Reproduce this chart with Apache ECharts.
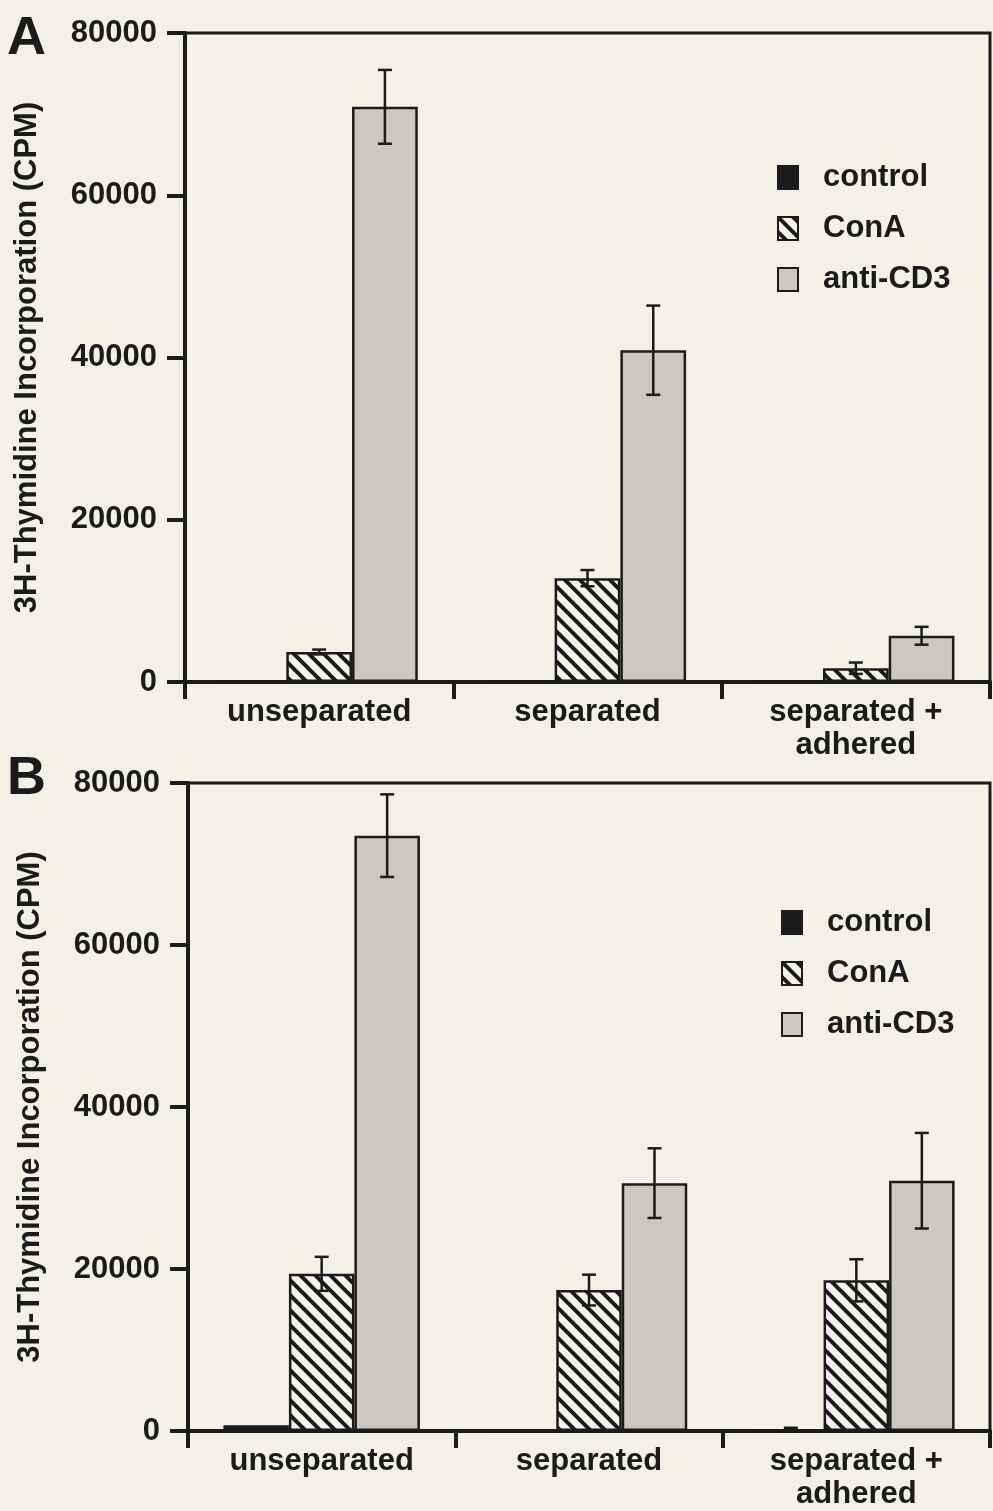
<!DOCTYPE html>
<html>
<head>
<meta charset="utf-8">
<script src="https://cdn.jsdelivr.net/npm/echarts@6/dist/echarts.min.js"></script>
<style>
  html, body { margin: 0; padding: 0; background: #f3f0e5; }
  #chart { width: 993px; height: 1511px; }
</style>
</head>
<body>
<div id="chart"></div>
<script>
// 分类与系列
var categories = ["unseparated", "separated", "separated +\nadhered"];
var seriesNames = ["control", "ConA", "anti-CD3"];
var yTicks = [0, 20000, 40000, 60000, 80000];

// Panel A
var controlA = [0, 0, 0];
var controlErrA = [0, 0, 0];
var conA_A = [3700, 12800, 1700];
var conAErrA = [300, 1000, 700];
var antiA = [70900, 40900, 5700];
var antiErrA = [4550, 5500, 1100];

// Panel B
var controlB = [700, 0, 150];
var controlErrB = [0, 0, 250];
var conA_B = [19400, 17400, 18600];
var conAErrB = [2100, 1900, 2600];
var antiB = [73500, 30600, 30900];
var antiErrB = [5100, 4300, 5900];

var INK = "#1b1b1b";
var BG = "#f3f0e5";
var GRAY = "#cbc8c2";
var FONT = "'Liberation Sans', Arial, sans-serif";
var BAR_FRAC = 0.245;

// 斜线填充
function hatch() {
  var s = 15;
  var c = document.createElement("canvas");
  c.width = s;
  c.height = s;
  var ctx = c.getContext("2d");
  ctx.fillStyle = "#f6f3ec";
  ctx.fillRect(0, 0, s, s);
  ctx.strokeStyle = INK;
  ctx.lineWidth = 4;
  for (var k = -1; k <= 1; k++) {
    ctx.beginPath();
    ctx.moveTo(k * s - 1, -1);
    ctx.lineTo(k * s + s + 1, s + 1);
    ctx.stroke();
  }
  return { image: c, repeat: "repeat" };
}
var hatchFill = hatch();

function errData(vals, errs, idx) {
  return vals.map(function (v, i) {
    return [i, idx, v, errs[i]];
  });
}

function renderErr(params, api) {
  var cat = api.value(0), s = api.value(1), v = api.value(2), e = api.value(3);
  if (!e) return;
  var band = api.size([1, 0])[0];
  var c = api.coord([cat, v]);
  var x = c[0] + (s - 1) * band * BAR_FRAC;
  var yTop = api.coord([cat, v + e])[1];
  var yBot = api.coord([cat, Math.max(v - e, 0)])[1];
  var hw = 7;
  var st = { stroke: INK, lineWidth: 2.5 };
  return {
    type: "group",
    children: [
      { type: "line", shape: { x1: x, y1: yTop, x2: x, y2: yBot }, style: st },
      { type: "line", shape: { x1: x - hw, y1: yTop, x2: x + hw, y2: yTop }, style: st },
      { type: "line", shape: { x1: x - hw, y1: yBot, x2: x + hw, y2: yBot }, style: st },
    ],
  };
}

function xAxisFor(gi) {
  return {
    type: "category",
    gridIndex: gi,
    data: categories,
    axisLine: { lineStyle: { color: INK, width: 4 } },
    axisTick: { show: true, length: 17, interval: 0, lineStyle: { color: INK, width: 4 } },
    axisLabel: {
      interval: 0,
      margin: 14,
      color: INK,
      fontFamily: FONT,
      fontWeight: "bold",
      fontSize: 31,
      lineHeight: 33,
    },
  };
}

function yAxisFor(gi) {
  return {
    type: "value",
    gridIndex: gi,
    min: yTicks[0],
    max: yTicks[yTicks.length - 1],
    interval: yTicks[1] - yTicks[0],
    name: "3H-Thymidine Incorporation (CPM)",
    nameLocation: "middle",
    nameRotate: 90,
    nameGap: 142,
    nameTextStyle: { color: INK, fontFamily: FONT, fontWeight: "bold", fontSize: 31 },
    splitLine: { show: false },
    axisLine: { show: true, lineStyle: { color: INK, width: 4 } },
    axisTick: { show: true, length: 18, lineStyle: { color: INK, width: 4 } },
    axisLabel: {
      margin: 28,
      color: INK,
      fontFamily: FONT,
      fontWeight: "bold",
      fontSize: 31,
      formatter: function (v) {
        return String(v);
      },
    },
  };
}

function barSeries(name, gi, data, color) {
  return {
    name: name,
    type: "bar",
    xAxisIndex: gi,
    yAxisIndex: gi,
    barWidth: BAR_FRAC * 100 + "%",
    barGap: "0%",
    data: data,
    itemStyle: { color: color, borderColor: INK, borderWidth: 2.5 },
    z: 2,
  };
}

function errSeries(gi, list) {
  return {
    type: "custom",
    name: "err" + gi,
    xAxisIndex: gi,
    yAxisIndex: gi,
    renderItem: renderErr,
    encode: { x: 0, y: 2 },
    data: list,
    z: 5,
  };
}

function legendFor(left, top) {
  return {
    orient: "vertical",
    left: left,
    top: top,
    icon: "rect",
    itemWidth: 20,
    itemHeight: 23,
    itemGap: 18,
    selectedMode: false,
    data: seriesNames.map(function (n) {
      return { name: n, itemStyle: { borderColor: INK, borderWidth: 2 } };
    }),
    textStyle: {
      color: INK,
      fontFamily: FONT,
      fontWeight: "bold",
      fontSize: 31,
      lineHeight: 33,
      padding: [0, 0, 0, 20],
    },
  };
}

var myChart = echarts.init(document.getElementById("chart"));
var option = {
  backgroundColor: BG,
  animation: false,
  grid: [
    {
      left: 185, top: 33, width: 805, height: 649,
      outerBoundsMode: "none", containLabel: false,
      show: true, borderColor: INK, borderWidth: 3,
    },
    {
      left: 188, top: 783, width: 802, height: 648,
      outerBoundsMode: "none", containLabel: false,
      show: true, borderColor: INK, borderWidth: 3,
    },
  ],
  xAxis: [xAxisFor(0), xAxisFor(1)],
  yAxis: [yAxisFor(0), yAxisFor(1)],
  legend: [legendFor(772, 156), legendFor(776, 901)],
  graphic: [
    { type: "text", left: 7, top: 12, style: { text: "A", fill: INK, font: "bold 54px " + FONT } },
    { type: "text", left: 7, top: 752, style: { text: "B", fill: INK, font: "bold 54px " + FONT } },
  ],
  series: [
    barSeries("control", 0, controlA, INK),
    barSeries("ConA", 0, conA_A, hatchFill),
    barSeries("anti-CD3", 0, antiA, GRAY),
    barSeries("control", 1, controlB, INK),
    barSeries("ConA", 1, conA_B, hatchFill),
    barSeries("anti-CD3", 1, antiB, GRAY),
    errSeries(0, errData(controlA, controlErrA, 0)
      .concat(errData(conA_A, conAErrA, 1))
      .concat(errData(antiA, antiErrA, 2))),
    errSeries(1, errData(controlB, controlErrB, 0)
      .concat(errData(conA_B, conAErrB, 1))
      .concat(errData(antiB, antiErrB, 2))),
  ],
};
myChart.setOption(option);
window.addEventListener("resize", function () {
  myChart.resize();
});
</script>
</body>
</html>
